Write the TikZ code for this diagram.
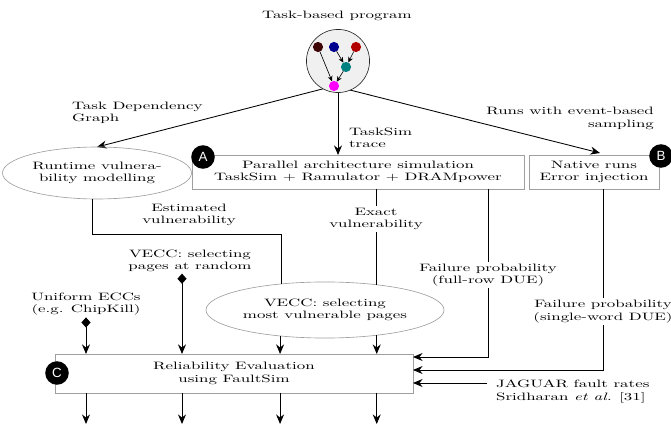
\documentclass[tikz,border=0pt]{standalone}
\usepackage{fontspec}
\setmainfont{Latin Modern Roman}[FakeStretch=1.58]
\newfontfamily\badgefont{Liberation Sans}
\usetikzlibrary{arrows.meta,shapes.geometric,backgrounds,calc}
\definecolor{cA}{HTML}{3D0505}
\definecolor{cB}{HTML}{000090}
\definecolor{cC}{HTML}{B20000}
\definecolor{cD}{HTML}{008080}
\definecolor{cE}{HTML}{FF00FF}
\begin{document}
\begin{tikzpicture}[x=0.935pt,y=-0.935pt,
 every node/.style={font=\fontsize{10}{11.5}\selectfont, align=center, inner sep=2pt, outer sep=0pt},
 arr/.style={line width=0.8pt,-{Stealth[length=9pt,width=7.5pt,inset=3pt]}},
 dia/.style={line width=0.8pt,{Diamond[length=9.5pt,width=8.5pt]}-{Stealth[length=9pt,width=7.5pt,inset=3pt]}},
 ln/.style={line width=0.8pt},
 sarr/.style={line width=0.6pt,-{Stealth[length=5pt,width=4.5pt,inset=1.5pt]}},
 gbox/.style={draw=gray!75, line width=0.6pt, rectangle},
 gell/.style={draw=gray!75, line width=0.6pt, ellipse},
 badge/.style={circle, fill=black, text=white, minimum size=22pt, inner sep=0pt, font=\badgefont\fontsize{12.5}{12.5}\selectfont},
 dotn/.style={circle, minimum size=9.5pt, inner sep=0pt},
 lbl/.style={fill=white, inner sep=2pt}]
\useasboundingbox (0,0) rectangle (671,428);
% program
\node (title) at (337,16) {Task-based program};
\node[circle, draw=black!85, fill=gray!12, line width=0.6pt, minimum size=59pt] (prog) at (338,61) {};
\node[dotn, fill=cA] (d1) at (318,47) {};
\node[dotn, fill=cB] (d2) at (334,47) {};
\node[dotn, fill=cC] (d3) at (356,47) {};
\node[dotn, fill=cD] (d4) at (346,67) {};
\node[dotn, fill=cE] (d5) at (334,86) {};
\draw[sarr] (d1) -- (d5);
\draw[sarr] (d2) -- (d4);
\draw[sarr] (d3) -- (d4);
\draw[sarr] (d4) -- (d5);
% main blocks
\node[gell, minimum width=169pt, minimum height=48.6pt] (rv) at (97,173) {Runtime vulnera-\\bility modelling};
\node[gbox, minimum width=310.4pt, minimum height=31.8pt] (boxA) at (358,172) {Parallel architecture simulation\\TaskSim + Ramulator + DRAMpower};
\node[gbox, minimum width=121.6pt, minimum height=31.8pt] (boxB) at (594,172) {Native runs\\Error injection};
\node[gbox, minimum width=334.7pt, minimum height=36.5pt] (boxC) at (234,373.5) {Reliability Evaluation\\using FaultSim};
\node[gell, minimum width=206.6pt, minimum height=52.4pt] (vecc) at (325,310) {VECC: selecting\\most vulnerable pages};
\node[badge] (bA) at (203,157) {A};
\node[badge] (bB) at (661,156) {B};
\node[badge] (bC) at (57,373) {C};
% labels
\node[anchor=west, align=left] (tdg) at (70,113) {Task Dependency\\Graph};
\node[anchor=west, align=left] (tst) at (347,137.5) {TaskSim\\trace};
\node[anchor=east, align=right] (rwe) at (656,118.5) {Runs with event-based\\sampling};
\node (estv) at (189,215) {Estimated\\vulnerability};
\node[lbl] (exv) at (376,219) {Exact\\vulnerability};
\node[lbl] (fp1) at (488,275) {Failure probability\\(full-row DUE)};
\node[lbl] (fp2) at (603,311.5) {Failure probability\\(single-word DUE)};
\node[anchor=west, align=left] (jag) at (494,391.5) {JAGUAR fault rates\\Sridharan \textit{et al.} [31]};
\node (uecc) at (86,304) {Uniform ECCs\\(e.g. ChipKill)};
\node (vrand) at (190,260.5) {VECC: selecting\\pages at random};
% helper coordinates
\coordinate (ev) at (0,234);
\coordinate (r1) at (488,357);
\coordinate (r2) at (603,370);
\coordinate (bot) at (0,424);
\coordinate (xb) at (182,0);
% connectors from program
\begin{pgfonlayer}{background}
\draw[arr] (d5.center) -- (rv.north);
\draw[arr] (d5.center) -- ($(boxB.north)+(6,-2)$);
\end{pgfonlayer}
\draw[arr] (prog.south) -- (prog.south |- boxA.north);
% vulnerability connectors
\draw[ln] (rv.259) -- (rv.259 |- ev) -| (vecc.149);
\draw[ln] (exv |- boxA.south) -- (exv);
\draw[ln] (exv) -- (exv |- vecc.26);
% failure probabilities
\draw[ln] (fp1 |- boxA.south) -- (fp1);
\draw[arr] (fp1) -- (r1) -- (r1 -| boxC.east);
\draw[ln] (fp2 |- boxB.south) -- (fp2);
\draw[arr] (fp2) -- (r2) -- (r2 -| boxC.east);
\draw[arr] ($(jag.west)+(-7,-8.5)$) coordinate (js) -- (js -| boxC.east);
% inputs to C
\draw[dia] (uecc.south) -- (uecc.south |- boxC.north);
\draw[dia] (vrand.south -| xb) -- (xb |- boxC.north);
\draw[arr] (vecc.210) -- (vecc.210 |- boxC.north);
\draw[arr] (vecc.334) -- (vecc.334 |- boxC.north);
% outputs of C
\draw[arr] (uecc.south |- boxC.south) -- (uecc.south |- bot);
\draw[arr] (xb |- boxC.south) -- (xb |- bot);
\draw[arr] (vecc.210 |- boxC.south) -- (vecc.210 |- bot);
\draw[arr] (vecc.334 |- boxC.south) -- (vecc.334 |- bot);
\end{tikzpicture}
\end{document}
